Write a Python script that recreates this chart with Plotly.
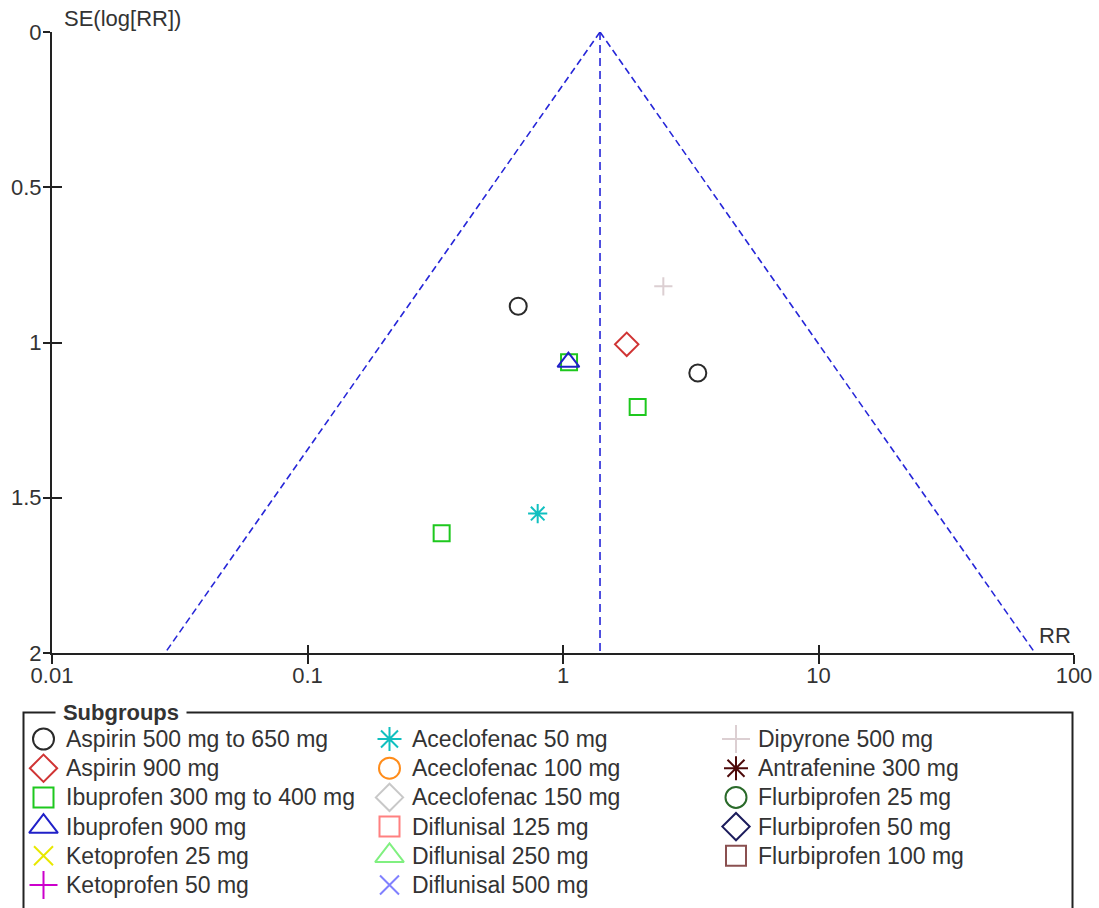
import numpy as np
import plotly.graph_objects as go

# ---- study data: risk ratio and standard error of log(RR) per subgroup ----
subgroups = [
    "Aspirin 500 mg to 650 mg", "Aspirin 900 mg", "Ibuprofen 300 mg to 400 mg",
    "Ibuprofen 900 mg", "Ketoprofen 25 mg", "Ketoprofen 50 mg",
    "Aceclofenac 50 mg", "Aceclofenac 100 mg", "Aceclofenac 150 mg",
    "Diflunisal 125 mg", "Diflunisal 250 mg", "Diflunisal 500 mg",
    "Dipyrone 500 mg", "Antrafenine 300 mg", "Flurbiprofen 25 mg",
    "Flurbiprofen 50 mg", "Flurbiprofen 100 mg",
]
symbols = [
    "circle-open", "diamond-open", "square-open", "triangle-up-open",
    "x-thin-open", "cross-thin-open", "asterisk-open", "circle-open",
    "diamond-open", "square-open", "triangle-up-open", "x-thin-open",
    "cross-thin-open", "asterisk-open", "circle-open", "diamond-open",
    "square-open",
]
colors = [
    "#2a2a2a", "#d03434", "#1ec81e", "#2020c8", "#e8e800", "#cc00cc",
    "#10c0c0", "#ff8c1a", "#c8c8c8", "#ff8080", "#80f080", "#8080ff",
    "#dccfd2", "#4d0a0a", "#2a6a2a", "#1c1c5c", "#8a5050",
]

rr = {
    "Aspirin 500 mg to 650 mg": [0.668, 3.37],
    "Aspirin 900 mg": [1.776],
    "Ibuprofen 300 mg to 400 mg": [1.056, 1.96, 0.335],
    "Ibuprofen 900 mg": [1.05],
    "Aceclofenac 50 mg": [0.796],
    "Dipyrone 500 mg": [2.47],
}
se = {
    "Aspirin 500 mg to 650 mg": [0.883, 1.098],
    "Aspirin 900 mg": [1.006],
    "Ibuprofen 300 mg to 400 mg": [1.064, 1.208, 1.614],
    "Ibuprofen 900 mg": [1.063],
    "Aceclofenac 50 mg": [1.551],
    "Dipyrone 500 mg": [0.819],
}

pooled_rr = 1.396
se_max = 2.0
x_ticks = [0.01, 0.1, 1, 10, 100]
x_ticktext = ["0.01", "0.1", "1", "10", "100"]
y_ticks = [0, 0.5, 1, 1.5, 2]
y_ticktext = ["0", "0.5", "1", "1.5", "2"]

FONT = "Liberation Sans, Arial, sans-serif"
W, H = 1099, 908
TEXT = "#333333"
AXIS = "#222222"

# marker sizes per symbol, in the plot and in the key
plot_size = {"circle-open": 17, "square-open": 16, "diamond-open": 18,
             "triangle-up-open": 19, "asterisk-open": 16,
             "cross-thin-open": 13, "x-thin-open": 13}
key_size = {"circle-open": 21, "square-open": 20, "diamond-open": 21,
            "triangle-up-open": 25, "asterisk-open": 20,
            "cross-thin-open": 20, "x-thin-open": 19}

fig = go.Figure()

# ---- funnel: pseudo 95% limits around the pooled estimate ----
se_line = np.array([0.0, se_max])
funnel_col = "#2626d8"
for sign in (-1, 1):
    fig.add_trace(go.Scatter(
        x=pooled_rr * np.exp(sign * 1.96 * se_line), y=se_line,
        mode="lines", line=dict(color=funnel_col, width=1.6, dash="7px,4px"),
        hoverinfo="skip", showlegend=False))
fig.add_trace(go.Scatter(
    x=[pooled_rr, pooled_rr], y=se_line, mode="lines",
    line=dict(color=funnel_col, width=1.6, dash="8px,5px"),
    hoverinfo="skip", showlegend=False))

# ---- study points ----
for name, sym, col in zip(subgroups, symbols, colors):
    if name not in rr:
        continue
    fig.add_trace(go.Scatter(
        x=rr[name], y=se[name], mode="markers", name=name,
        marker=dict(symbol=sym, size=plot_size[sym], color=col, opacity=1,
                    line=dict(color=col, width=2)),
        showlegend=False, cliponaxis=False))

# ---- axes (main frame placed by page pixels) ----
px_left, px_right, px_top, px_bottom = 52, 1074, 32, 653
xdom = [px_left / W, px_right / W]
ydom = [1 - px_bottom / H, 1 - px_top / H]
tick_font = dict(family=FONT, size=22, color=TEXT)
common = dict(showgrid=False, zeroline=False, automargin=False)

fig.update_layout(
    xaxis=dict(type="log", range=[-2, 2], domain=xdom, anchor="y",
               tickmode="array", tickvals=x_ticks, ticktext=x_ticktext,
               ticks="outside", ticklen=9, tickwidth=1.5, tickcolor=AXIS,
               ticklabelstandoff=-7,
               showline=True, linecolor=AXIS, linewidth=2,
               tickfont=tick_font, **common),
    yaxis=dict(range=[se_max, 0], domain=ydom, anchor="x",
               tickmode="array", tickvals=y_ticks, ticktext=y_ticktext,
               ticks="outside", ticklen=7, tickwidth=1.5, tickcolor=AXIS,
               ticklabelstandoff=-3,
               showline=True, linecolor=AXIS, linewidth=2,
               tickfont=tick_font, **common),
    # inward halves of the crossing tick marks
    xaxis2=dict(type="log", range=[-2, 2], domain=xdom, anchor="y",
                overlaying="x", side="bottom", tickmode="array",
                tickvals=x_ticks, ticks="inside", ticklen=8, tickwidth=1.5,
                tickcolor=AXIS, showticklabels=False, showline=False,
                **common),
    yaxis2=dict(range=[se_max, 0], domain=ydom, anchor="x",
                overlaying="y", side="left", tickmode="array",
                tickvals=y_ticks, ticks="inside", ticklen=10, tickwidth=1.5,
                tickcolor=AXIS, showticklabels=False, showline=False,
                **common),
)
fig.add_trace(go.Scatter(x=[pooled_rr], y=[0], xaxis="x2", yaxis="y2",
                         mode="markers", marker=dict(opacity=0),
                         hoverinfo="skip", showlegend=False))

# ---- subgroup key, laid out on a pixel-scaled frame below the plot ----
key_top = 700
fig.update_layout(
    xaxis3=dict(range=[0, W], domain=[0, 1], anchor="y3", visible=False,
                fixedrange=True, **common),
    yaxis3=dict(range=[H, key_top], domain=[0, 1 - key_top / H], anchor="x3",
                visible=False, fixedrange=True, **common),
)
col_marker_x = [43.5, 389.5, 736]
text_offset = 20
row_y0, row_h, per_col = 739, 29.2, 6

key_x, key_y = [], []
for i, name in enumerate(subgroups):
    c, r = divmod(i, per_col)
    key_x.append(col_marker_x[c])
    key_y.append(row_y0 + r * row_h)
    fig.add_annotation(x=col_marker_x[c] + text_offset, y=row_y0 + r * row_h,
                       xref="x3", yref="y3", text=name, showarrow=False,
                       xanchor="left", yanchor="middle",
                       font=dict(family=FONT, size=23, color=TEXT))

fig.add_trace(go.Scatter(
    x=key_x, y=key_y, xaxis="x3", yaxis="y3", mode="markers",
    marker=dict(symbol=symbols, size=[key_size[s] for s in symbols],
                color=colors, opacity=1, line=dict(color=colors, width=2)),
    hoverinfo="skip", showlegend=False, cliponaxis=False))

fig.add_shape(type="rect", xref="x3", yref="y3", x0=23.5, x1=1072.5,
              y0=712.5, y1=H + 20, line=dict(color=AXIS, width=2),
              fillcolor="rgba(0,0,0,0)")
fig.add_annotation(x=55, y=712, xref="x3", yref="y3", text="<b>Subgroups</b>",
                   showarrow=False, xanchor="left", yanchor="middle",
                   width=130, align="center", bgcolor="white", borderpad=0,
                   font=dict(family=FONT, size=22, color=TEXT))

# ---- axis titles ----
fig.add_annotation(x=(px_left + 10) / W, y=1 - 19 / H, xref="paper", yref="paper",
                   text="SE(log[RR])", showarrow=False, xanchor="left",
                   yanchor="middle", font=dict(family=FONT, size=22, color=TEXT))
fig.add_annotation(x=1073 / W, y=1 - 635 / H, xref="paper", yref="paper",
                   text="RR", showarrow=False, xanchor="right", yanchor="middle",
                   font=dict(family=FONT, size=22, color=TEXT))

fig.update_layout(
    template="none",
    width=W, height=H,
    margin=dict(l=0, r=0, t=0, b=0, autoexpand=False),
    paper_bgcolor="white", plot_bgcolor="rgba(0,0,0,0)",
    showlegend=False,
)

fig.write_html("out.html")
